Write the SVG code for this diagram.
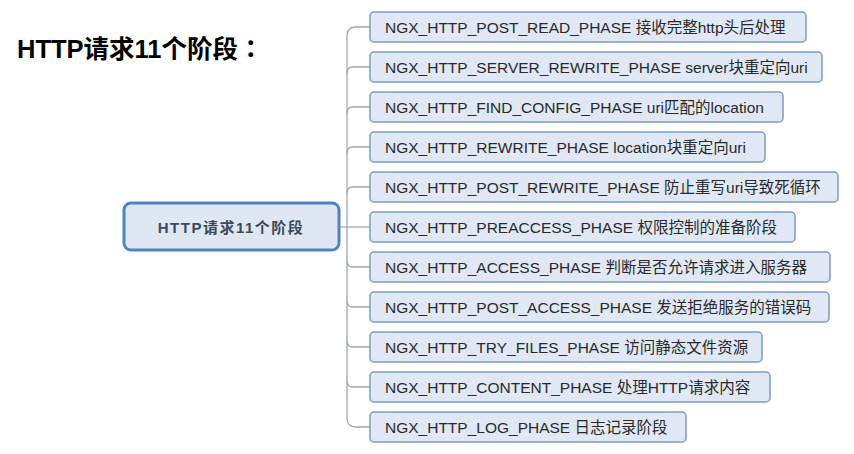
<svg xmlns="http://www.w3.org/2000/svg" width="854" height="454" viewBox="0 0 854 454">
<style>
.leaf rect{fill:#dfe8f4;stroke:#7d9cc2;stroke-width:1.5}
.leaf text{font-family:"Liberation Sans","Noto Sans CJK SC",sans-serif;font-size:15.5px;fill:#2a2a2a}
.conn{fill:none;stroke:#9fa9b3;stroke-width:1.3}
</style>
<rect width="854" height="454" fill="#ffffff"/>
<text id="title" x="17" y="58" font-family="Liberation Sans,'Noto Sans CJK SC',sans-serif" font-size="25.5" font-weight="bold" fill="#000">HTTP请求11个阶段<tspan font-family="'Noto Sans CJK TC',sans-serif">：</tspan></text>
<g id="connectors">
<path class="conn" d="M370 27 H356 Q347 27 347 36 V418 Q347 427 356 427 H370"/>
<path class="conn" d="M347 73 Q347 67 353 67 H370"/>
<path class="conn" d="M347 113 Q347 107 353 107 H370"/>
<path class="conn" d="M347 153 Q347 147 353 147 H370"/>
<path class="conn" d="M347 193 Q347 187 353 187 H370"/>
<path class="conn" d="M339 227 H370"/>
<path class="conn" d="M347 261 Q347 267 353 267 H370"/>
<path class="conn" d="M347 301 Q347 307 353 307 H370"/>
<path class="conn" d="M347 341 Q347 347 353 347 H370"/>
<path class="conn" d="M347 381 Q347 387 353 387 H370"/>
</g>
<g id="root">
<rect x="124" y="203" width="215" height="47" rx="7" fill="#dfe7f2" stroke="#4f83c2" stroke-width="3"/>
<text x="231" y="232.5" text-anchor="middle" font-family="Liberation Sans,'Noto Sans CJK SC',sans-serif" font-size="15" font-weight="bold" letter-spacing="1.5" fill="#3c4a5c">HTTP请求11个阶段</text>
</g>
<g id="n1" class="leaf"><rect x="370" y="12" width="436" height="30" rx="4"/><text x="385" y="32.5">NGX_HTTP_POST_READ_PHASE 接收完整http头后处理</text></g>
<g id="n2" class="leaf"><rect x="370" y="52" width="452" height="30" rx="4"/><text x="385" y="72.5">NGX_HTTP_SERVER_REWRITE_PHASE server块重定向uri</text></g>
<g id="n3" class="leaf"><rect x="370" y="92" width="413" height="30" rx="4"/><text x="385" y="112.5">NGX_HTTP_FIND_CONFIG_PHASE uri匹配的location</text></g>
<g id="n4" class="leaf"><rect x="370" y="132" width="395" height="30" rx="4"/><text x="385" y="152.5">NGX_HTTP_REWRITE_PHASE location块重定向uri</text></g>
<g id="n5" class="leaf"><rect x="370" y="172" width="468" height="30" rx="4"/><text x="385" y="192.5">NGX_HTTP_POST_REWRITE_PHASE 防止重写uri导致死循环</text></g>
<g id="n6" class="leaf"><rect x="370" y="212" width="425" height="30" rx="4"/><text x="385" y="232.5">NGX_HTTP_PREACCESS_PHASE 权限控制的准备阶段</text></g>
<g id="n7" class="leaf"><rect x="370" y="252" width="460" height="30" rx="4"/><text x="385" y="272.5">NGX_HTTP_ACCESS_PHASE 判断是否允许请求进入服务器</text></g>
<g id="n8" class="leaf"><rect x="370" y="292" width="459" height="30" rx="4"/><text x="385" y="312.5">NGX_HTTP_POST_ACCESS_PHASE 发送拒绝服务的错误码</text></g>
<g id="n9" class="leaf"><rect x="370" y="332" width="392" height="30" rx="4"/><text x="385" y="352.5">NGX_HTTP_TRY_FILES_PHASE 访问静态文件资源</text></g>
<g id="n10" class="leaf"><rect x="370" y="372" width="400" height="30" rx="4"/><text x="385" y="392.5">NGX_HTTP_CONTENT_PHASE 处理HTTP请求内容</text></g>
<g id="n11" class="leaf"><rect x="370" y="412" width="316" height="30" rx="4"/><text x="385" y="432.5">NGX_HTTP_LOG_PHASE 日志记录阶段</text></g>
</svg>
